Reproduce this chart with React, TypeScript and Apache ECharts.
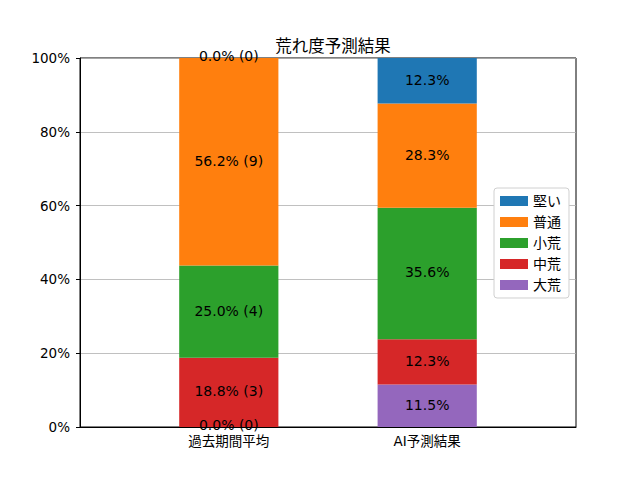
import React, { useEffect, useRef } from "react";
import * as echarts from "echarts";

const categories = ["過去期間平均", "AI予測結果"];
const seriesNames = ["大荒", "中荒", "小荒", "普通", "堅い"];
const legendOrder = ["堅い", "普通", "小荒", "中荒", "大荒"];
const colors = ["#9467bd", "#d62728", "#2ca02c", "#ff7f0e", "#1f77b4"];
// percentages per series, [past, ai]
const pastPct = [0.0, 18.8, 25.0, 56.2, 0.0];
const pastCount = [0, 3, 4, 9, 0];
const aiPct = [11.5, 12.3, 35.6, 28.3, 12.3];
const yTicks = [0, 20, 40, 60, 80, 100];

const FONT = "'DejaVu Sans', 'Noto Sans CJK JP', sans-serif";

export default function App() {
  const ref = useRef<HTMLDivElement>(null);
  useEffect(() => {
    if (!ref.current) return;
    const chart = echarts.init(ref.current, undefined, { renderer: "svg" });
    // 5 slots so that bars sit at matplotlib positions (-0.75..1.75 range)
    const slots = ["", categories[0], "", categories[1], ""];
    const mk = (v: number, text: string) => ({
      value: v,
      label: { offset: [0, v === 0 ? -2 : -1], formatter: text },
    });
    const series = seriesNames.map((name, i) => ({
      name,
      type: "bar",
      stack: "total",
      barWidth: "100%",
      itemStyle: { color: colors[i] },
      label: {
        show: true,
        position: "inside",
        color: "#000",
        fontSize: 14,
        fontFamily: FONT,
      },
      data: [
        "-",
        mk(pastPct[i], `${pastPct[i].toFixed(1)}% (${pastCount[i]})`),
        "-",
        mk(aiPct[i], `${aiPct[i].toFixed(1)}%`),
        "-",
      ],
    }));
    chart.setOption({
      animation: false,
      textStyle: { fontFamily: FONT },
      title: {
        text: "荒れ度予測結果",
        left: 328,
        textAlign: "center",
        top: 33,
        textStyle: { fontSize: 16.5, fontWeight: "normal", color: "#000", fontFamily: FONT },
      },
      legend: {
        data: legendOrder,
        orient: "vertical",
        right: 71,
        top: 188,
        itemWidth: 28,
        itemHeight: 10,
        itemGap: 7,
        padding: [6, 8, 6, 6],
        backgroundColor: "#fff",
        borderColor: "#d0d0d0",
        borderWidth: 1,
        borderRadius: 3,
        icon: "rect",
        textStyle: { fontSize: 14, color: "#000", fontFamily: FONT },
      },
      grid: {
        left: 80,
        right: 64,
        top: 58,
        bottom: 53,
        show: true,
        borderColor: "#000",
        borderWidth: 1,
        backgroundColor: "transparent",
      },
      xAxis: {
        type: "category",
        data: slots,
        boundaryGap: true,
        axisLine: { lineStyle: { color: "#000", width: 1 } },
        axisTick: {
          alignWithLabel: true,
          length: 4,
          interval: (idx: number) => idx === 1 || idx === 3,
          lineStyle: { color: "#000" },
        },
        axisLabel: {
          interval: 0,
          color: "#000",
          fontSize: 13.5,
          margin: 7,
          fontFamily: FONT,
        },
      },
      yAxis: {
        type: "value",
        min: yTicks[0],
        max: yTicks[yTicks.length - 1],
        interval: 20,
        axisLine: { show: true, lineStyle: { color: "#000", width: 1 } },
        axisTick: { show: true, length: 4, lineStyle: { color: "#000" } },
        axisLabel: {
          formatter: "{value}%",
          color: "#000",
          fontSize: 13.5,
          margin: 10,
          fontFamily: FONT,
        },
        splitLine: { show: true, lineStyle: { color: "#b0b0b0", width: 0.8 } },
      },
      series,
    });
    return () => chart.dispose();
  }, []);
  return (
    <div
      ref={ref}
      style={{ position: "absolute", left: 0, top: 0, width: 640, height: 480, background: "#fff" }}
    />
  );
}
